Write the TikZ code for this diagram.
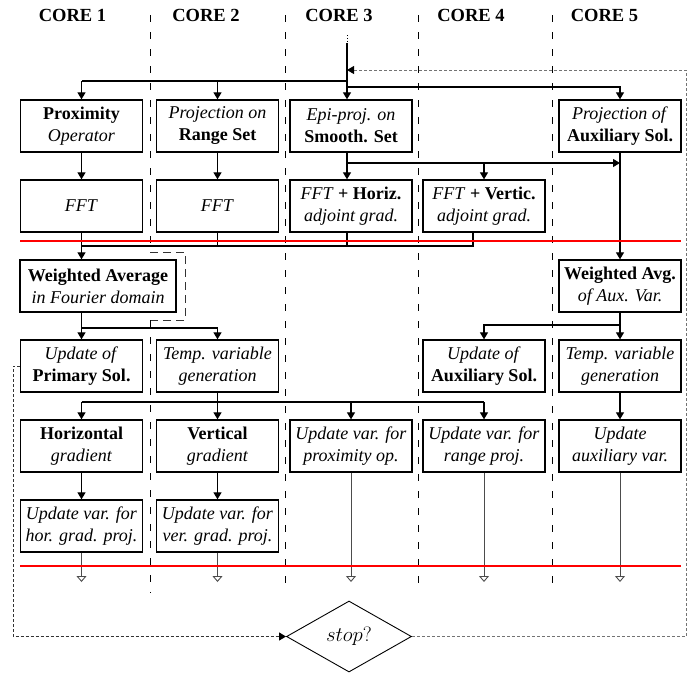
\documentclass[tikz,border=0pt]{standalone}
\usepackage{fontspec}
\setmainfont{Liberation Serif}
\usetikzlibrary{arrows.meta,shapes.geometric}
\begin{document}
\begin{tikzpicture}[x=1pt,y=-1pt,
  box/.style={draw,line width=1.3pt,minimum width=122pt,minimum height=52pt,inner sep=0pt,align=center,font=\fontsize{18}{22}\selectfont},
  wbox/.style={box,minimum width=156pt},
  hdr/.style={font=\fontsize{18.5}{22}\selectfont\bfseries},
  conn/.style={line width=1.1pt},
  arr/.style={conn,-{Triangle[length=7pt,width=8pt]}},
  endarr/.style={line width=0.9pt,black!70,-{Triangle[open,length=6pt,width=10pt]}},
  sep/.style={line width=0.9pt,dash pattern=on 7pt off 10pt},
  sepb/.style={line width=0.9pt,black!80,dash pattern=on 8pt off 5pt},
  fbk/.style={line width=1pt,black!55,dash pattern=on 3pt off 2pt},
  fbl/.style={line width=1pt,black!80,dash pattern=on 3pt off 2pt},
  redline/.style={red,line width=2.2pt}]

\useasboundingbox (0,0) rectangle (700,673);

% column separators
\coordinate (sa) at (150,252);
\coordinate (sb) at (185,252);
\coordinate (sc) at (185,320);
\coordinate (sd) at (150,320);
\draw[sep] (150,15) -- (sa);
\draw[sepb] (sa) -- (sb) -- (sc) -- (sd);
\draw[sep] (sd) -- (150,593);
\draw[sep] (285,15) -- (285,593);
\draw[sep] (418,15) -- (418,593);
\draw[sep] (552,15) -- (552,593);

% headers
\node[hdr] (h1) at (72.5,15) {CORE 1};
\node[hdr] (h2) at (206,15) {CORE 2};
\node[hdr] (h3) at (339,15) {CORE 3};
\node[hdr] (h4) at (471,15) {CORE 4};
\node[hdr] (h5) at (604.5,15) {CORE 5};

% core 1
\node[box] (p1) at (81.5,126) {\textbf{Proximity}\\\textit{Operator}};
\node[box] (f1) at (81.5,206) {\textit{FFT}};
\node[wbox] (wa) at (98,286) {\textbf{Weighted Average}\\\textit{in Fourier domain}};
\node[box] (u1) at (81.5,366) {\textit{Update of}\\\textbf{Primary Sol.}};
\node[box] (hg) at (81.5,446) {\textbf{Horizontal}\\\textit{gradient}};
\node[box] (uh) at (81.5,526) {\textit{Update var. for}\\\textit{hor. grad. proj.}};

% core 2
\node[box] (p2) at (217.5,126) {\textit{Projection on}\\\textbf{Range Set}};
\node[box] (f2) at (217.5,206) {\textit{FFT}};
\node[box] (t2) at (217.5,366) {\textit{Temp. variable}\\\textit{generation}};
\node[box] (vg) at (217.5,446) {\textbf{Vertical}\\\textit{gradient}};
\node[box] (uv) at (217.5,526) {\textit{Update var. for}\\\textit{ver. grad. proj.}};

% core 3
\node[box] (p3) at (351,126) {\textit{Epi-proj. on}\\\textbf{Smooth. Set}};
\node[box] (f3) at (351,206) {\textit{FFT} \textbf{+ Horiz.}\\\textit{adjoint grad.}};
\node[box] (up3) at (351,446) {\textit{Update var. for}\\\textit{proximity op.}};

% core 4
\node[box] (f4) at (484,206) {\textit{FFT} \textbf{+ Vertic.}\\\textit{adjoint grad.}};
\node[box] (ua) at (484,366) {\textit{Update of}\\\textbf{Auxiliary Sol.}};
\node[box] (ur) at (484,446) {\textit{Update var. for}\\\textit{range proj.}};

% core 5
\node[box] (p5) at (620,126) {\textit{Projection of}\\\textbf{Auxiliary Sol.}};
\node[box] (wv) at (620,286) {\textbf{Weighted Avg.}\\\textit{of Aux. Var.}};
\node[box] (t5) at (620,366) {\textit{Temp. variable}\\\textit{generation}};
\node[box] (ux) at (620,446) {\textit{Update}\\\textit{auxiliary var.}};

% stop
\node[draw,diamond,line width=0.9pt,minimum width=125pt,minimum height=71pt,inner sep=0pt,font=\fontsize{20.74}{24}\selectfont] (stop) at (349,636.5) {$stop?$};

% start
\coordinate (s0) at (347,35);
\coordinate (s1) at (347,43);
\coordinate (j1) at (347,81);
\coordinate (j2) at (347,87);
\draw[line width=0.9pt,dotted] (s0) -- (s1);
\draw[arr] (s1) -- (s1 |- p3.north);
\draw[conn] (j1) -- (j1 -| p1.north);
\draw[arr] (j1 -| p1.north) -- (p1.north);
\draw[arr] (j1 -| p2.north) -- (p2.north);
\draw[arr] (j2) -| (p5.north);

% row1 -> row2
\draw[arr] (p1.south) -- (f1.north);
\draw[arr] (p2.south) -- (f2.north);
\coordinate (k3) at (347,163);
\draw[arr] (k3 |- p3.south) -- (k3 |- f3.north);
\draw[arr] (k3) -- (k3 -| p5.south);
\draw[arr] (k3 -| f4.north) -- (f4.north);
\draw[arr] (p5.south) -- (wv.north);

% row2 -> weighted average
\coordinate (m4) at (473,246);
\draw[conn] (m4 |- f4.south) -- (m4) -- (m4 -| f1.south);
\draw[conn] (f2.south) -- (f2.south |- m4);
\draw[conn] (k3 |- f3.south) -- (k3 |- m4);
\draw[arr] (f1.south) -- (f1.south |- wa.north);

% weighted average -> row 4
\coordinate (n) at (81.5,328);
\draw[arr] (f1.south |- wa.south) -- (u1.north);
\draw[arr] (n) -| (t2.north);
\coordinate (q) at (620,325);
\draw[arr] (wv.south) -- (t5.north);
\draw[arr] (q) -| (ua.north);

% row 4 -> row 5
\coordinate (r) at (217.5,402);
\draw[conn] (r -| hg.north) -- (r -| ur.north);
\draw[arr] (r -| hg.north) -- (hg.north);
\draw[arr] (t2.south) -- (vg.north);
\draw[arr] (r -| up3.north) -- (up3.north);
\draw[arr] (r -| ur.north) -- (ur.north);
\draw[arr] (t5.south) -- (ux.north);

% row 5 -> row 6
\draw[arr] (hg.south) -- (uh.north);
\draw[arr] (vg.south) -- (uv.north);

% end arrows
\coordinate (e) at (0,582);
\draw[endarr] (uh.south) -- (uh.south |- e);
\draw[endarr] (uv.south) -- (uv.south |- e);
\draw[endarr] (up3.south) -- (up3.south |- e);
\draw[endarr] (ur.south) -- (ur.south |- e);
\draw[endarr] (ux.south) -- (ux.south |- e);

% red sync lines
\coordinate (ra) at (20,241);
\coordinate (rb) at (681,241);
\coordinate (rc) at (20,566);
\coordinate (rd) at (681,566);
\draw[redline] (ra) -- (rb);
\draw[redline] (rc) -- (rd);

% feedback loops
\coordinate (fa) at (686,636.5);
\coordinate (fb) at (686,70);
\coordinate (fc) at (347,70);
\draw[fbk,-{Triangle[length=7pt,width=8pt,black]}] (stop.east) -- (fa) -- (fb) -- (fc);
\coordinate (ga) at (13,366);
\coordinate (gb) at (13,636.5);
\draw[fbl,-{Triangle[length=7pt,width=8pt,black]}] (u1.west) -- (ga) -- (gb) -- (stop.west);
\end{tikzpicture}
\end{document}
